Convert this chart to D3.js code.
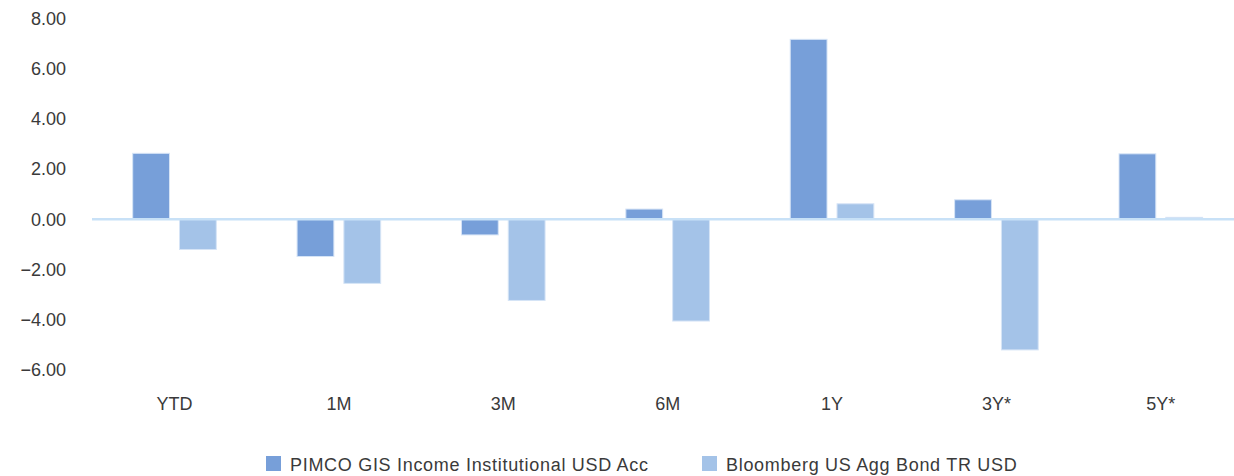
<!DOCTYPE html>
<html>
<head>
<meta charset="utf-8">
<script src="https://cdn.jsdelivr.net/npm/d3@7"></script>
<style>
  html, body { margin: 0; padding: 0; background: #fff; }
  svg { display: block; }
  text { font-family: "Liberation Sans", Arial, sans-serif; fill: #3a3a3a; }
</style>
</head>
<body>
<svg id="chart" width="1234" height="476"></svg>
<script>
const categories = ["YTD", "1M", "3M", "6M", "1Y", "3Y*", "5Y*"];
const seriesNames = ["PIMCO GIS Income Institutional USD Acc", "Bloomberg US Agg Bond TR USD"];
const fundValues = [2.63, -1.48, -0.62, 0.41, 7.17, 0.78, 2.61];
const benchValues = [-1.20, -2.55, -3.23, -4.05, 0.62, -5.20, 0.08];
const yTicks = [8, 6, 4, 2, 0, -2, -4, -6];
const colors = ["#779FD9", "#A4C3E8"];

const svg = d3.select("#chart");

const x0 = d3.scaleBand().domain(categories).range([92.3, 1243]).padding(0);
const x1 = d3.scaleBand().domain(seriesNames).range([0, x0.bandwidth()])
  .paddingInner(0.2137).paddingOuter(0.863);
const y = d3.scaleLinear().domain([-6, 8]).range([370, 18.5]);

// Y axis labels
const yAxis = d3.axisLeft(y).tickValues(yTicks).tickFormat(d3.format(".2f")).tickSize(0).tickPadding(0);
const yG = svg.append("g").attr("transform", "translate(66,0)").call(yAxis);
yG.select(".domain").remove();
yG.selectAll("text").style("font-size", "18px").attr("fill", "#3a3a3a")
  .style("font-family", '"Liberation Sans", Arial, sans-serif');

const data = categories.map((c, i) => ({ cat: c, vals: [fundValues[i], benchValues[i]] }));

const groups = svg.append("g").selectAll("g").data(data).join("g")
  .attr("transform", d => `translate(${x0(d.cat)},0)`);

groups.selectAll("rect").data(d => d.vals.map((v, j) => ({ v, s: seriesNames[j], j })))
  .join("rect")
  .attr("x", d => x1(d.s))
  .attr("width", x1.bandwidth())
  .attr("y", d => y(Math.max(0, d.v)))
  .attr("height", d => Math.abs(y(d.v) - y(0)))
  .attr("fill", d => colors[d.j])
  .attr("stroke", "#d6e4f6")
  .attr("stroke-width", 1);

// zero line
svg.append("line")
  .attr("x1", 92).attr("x2", 1234)
  .attr("y1", y(0)).attr("y2", y(0))
  .attr("stroke", "#C8E1F7").attr("stroke-width", 2.5);

// X axis labels
const xAxis = d3.axisBottom(x0).tickSize(0).tickPadding(0);
const xG = svg.append("g").attr("transform", "translate(0,397)").call(xAxis);
xG.select(".domain").remove();
xG.selectAll("text").style("font-size", "18px").attr("fill", "#3a3a3a").attr("dy", "0.71em")
  .style("font-family", '"Liberation Sans", Arial, sans-serif');

// Legend
const legendX = [266, 702];
const legend = svg.append("g").selectAll("g").data(seriesNames).join("g")
  .attr("transform", (d, i) => `translate(${legendX[i]},456)`);
legend.append("rect").attr("width", 15).attr("height", 15).attr("fill", (d, i) => colors[i]);
legend.append("text").attr("x", 24).attr("y", 15).style("font-size", "18px")
  .style("letter-spacing", "0.7px").text(d => d);
</script>
</body>
</html>
